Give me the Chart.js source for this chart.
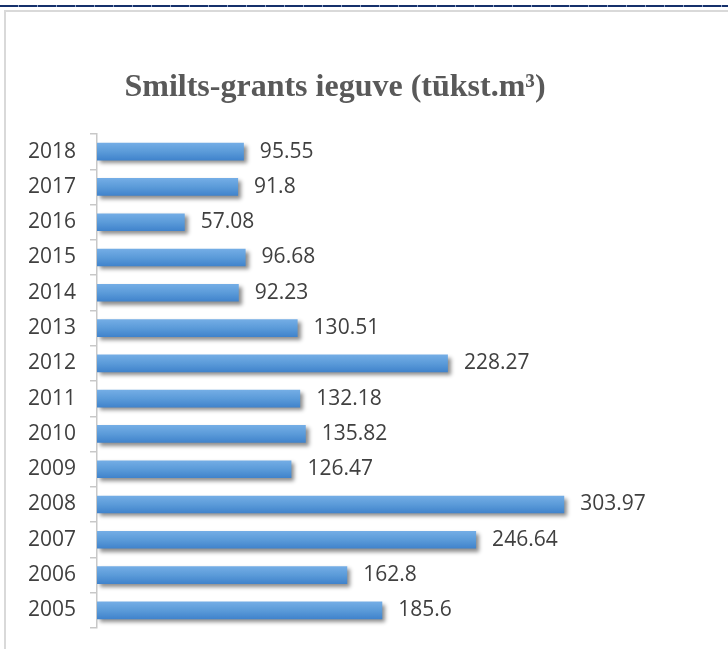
<!DOCTYPE html>
<html>
<head>
<meta charset="utf-8">
<script src="https://cdn.jsdelivr.net/npm/chart.js@4.4.1/dist/chart.umd.min.js"></script>
<style>
  html, body { margin: 0; padding: 0; background: #fff; }
  body { width: 728px; height: 649px; position: relative; overflow: hidden; }
  #topline {
    position: absolute; left: 0; top: 5px; width: 728px; height: 2px;
    background: repeating-linear-gradient(90deg, #15306b 0 18px, #8fa3c8 18px 19px);
  }
  #frame {
    position: absolute; left: 4px; top: 10px; width: 800px; height: 700px;
    border-top: 2px solid #d9d9d9; border-left: 2px solid #d9d9d9;
  }
  #wrap { position: absolute; left: 5px; top: 12px; width: 660px; height: 637px; }
</style>
</head>
<body>
<div id="topline"></div>
<div id="frame"></div>
<div id="wrap"><canvas id="chart-sand"></canvas></div>
<script>
const years = ["2005", "2006", "2007", "2008", "2009", "2010", "2011", "2012", "2013", "2014", "2015", "2016", "2017", "2018"];
const values = [185.6, 162.8, 246.64, 303.97, 126.47, 135.82, 132.18, 228.27, 130.51, 92.23, 96.68, 57.08, 91.8, 95.55];
const chart_title = "Smilts-grants ieguve (tūkst.m³)";

const text_color = "#404040";

// title centred over the whole chart object, like the Excel original
const titlePlugin = {
  id: "excelTitle",
  afterDraw(chart) {
    const { ctx } = chart;
    ctx.save();
    ctx.font = "bold 32px 'Liberation Serif', 'Times New Roman', serif";
    ctx.fillStyle = "#595959";
    ctx.textAlign = "center";
    ctx.textBaseline = "alphabetic";
    ctx.fillText(chart_title, chart.width / 2, 84);
    ctx.restore();
  },
};

// soft shadow under the bars + value labels at the bar ends
const barDecor = {
  id: "barDecor",
  beforeDatasetsDraw(chart) {
    const { ctx } = chart;
    ctx.save();
    ctx.shadowColor = "rgba(0, 0, 0, 0.45)";
    ctx.shadowBlur = 4;
    ctx.shadowOffsetX = 3;
    ctx.shadowOffsetY = 3;
  },
  afterDatasetsDraw(chart) {
    const { ctx } = chart;
    ctx.restore();
    const meta = chart.getDatasetMeta(0);
    ctx.save();
    ctx.font = "21px 'Open Sans', sans-serif";
    ctx.fillStyle = text_color;
    ctx.textAlign = "left";
    ctx.textBaseline = "middle";
    meta.data.forEach((bar, i) => {
      ctx.fillText(String(values[i]), bar.x + 16, bar.y);
    });
    ctx.restore();
  },
};

const chart_sand = document.getElementById("chart-sand").getContext("2d");
const my_chart = new Chart(chart_sand, {
  type: "bar",
  data: {
    labels: years,
    datasets: [
      {
        label: "Smilts-grants ieguve",
        data: values,
        backgroundColor(c) {
          const { ctx, chartArea, scales } = c.chart;
          if (!chartArea) return "#5b9bd5";
          const yc = scales.y.getPixelForValue(c.dataIndex);
          const g = ctx.createLinearGradient(0, yc - 9, 0, yc + 9);
          g.addColorStop(0, "#75aee6");
          g.addColorStop(0.5, "#5b9bd9");
          g.addColorStop(1, "#3f82cb");
          return g;
        },
        borderWidth: 0,
        barPercentage: 0.5,
        categoryPercentage: 1,
      },
    ],
  },
  options: {
    indexAxis: "y",
    responsive: true,
    maintainAspectRatio: false,
    animation: false,
    layout: { padding: { top: 122, right: 30, bottom: 21, left: 23 } },
    plugins: {
      legend: { display: false },
      title: { display: false },
      tooltip: { enabled: false },
    },
    scales: {
      x: {
        display: false,
        min: 0,
        max: 350,
      },
      y: {
        reverse: true,
        afterFit(scale) { scale.width = 69; },
        grid: {
          drawOnChartArea: false,
          drawTicks: true,
          tickLength: 7,
          color: "#c8c8c8",
          lineWidth: 1.5,
          offset: true,
        },
        border: { display: true, color: "#c8c8c8", width: 1.5 },
        ticks: {
          padding: 3,
          crossAlign: "far",
          color: text_color,
          font: { family: "'Open Sans', sans-serif", size: 21 },
        },
      },
    },
  },
  plugins: [titlePlugin, barDecor],
});
</script>
</body>
</html>
